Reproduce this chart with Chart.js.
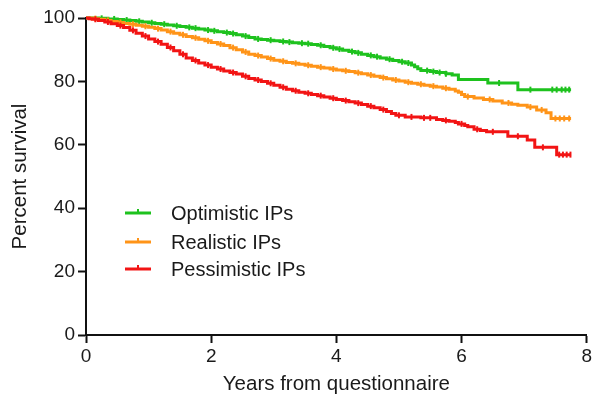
<!DOCTYPE html>
<html><head><meta charset="utf-8">
<script src="https://cdn.jsdelivr.net/npm/chart.js@4"></script>
<style>html,body{margin:0;padding:0;background:#fff}#wrap{width:594px;height:400px;position:relative}</style>
</head><body><div id="wrap"><canvas id="c" width="594" height="400"></canvas></div>
<script>
const seriesNames = ['Optimistic IPs', 'Realistic IPs', 'Pessimistic IPs'];
const seriesColors = ['#1ec21e', '#ff9418', '#f21414'];

const optimisticYears    = [0, 0.2, 0.35, 0.5, 0.6, 0.7, 0.8, 0.9, 1.0, 1.1, 1.2, 1.3, 1.4, 1.5, 1.6, 1.7, 1.8, 1.9, 2.0, 2.1, 2.2, 2.3, 2.4, 2.5, 2.6, 2.7, 2.8, 2.9, 3.0, 3.1, 3.2, 3.3, 3.4, 3.5, 3.6, 3.7, 3.8, 3.9, 4.0, 4.1, 4.2, 4.3, 4.4, 4.5, 4.6, 4.7, 4.8, 4.9, 5.0, 5.1, 5.2, 5.25, 5.3, 5.35, 5.5, 5.6, 5.75, 5.85, 5.95, 6.42, 6.9, 7.75];
const optimisticSurvival = [100, 99.9, 99.7, 99.5, 99.35, 99.2, 98.95, 98.7, 98.5, 98.3, 98.05, 97.8, 97.55, 97.3, 97.05, 96.8, 96.5, 96.2, 95.95, 95.7, 95.4, 95.1, 94.7, 94.3, 93.85, 93.4, 93.2, 93.0, 92.8, 92.6, 92.4, 92.2, 92.05, 91.9, 91.65, 91.4, 91.0, 90.6, 90.2, 89.8, 89.4, 89.0, 88.6, 88.2, 87.8, 87.4, 87.0, 86.6, 86.2, 85.8, 85.2, 84.6, 84.0, 83.4, 83.1, 82.8, 82.4, 82.0, 80.6, 79.5, 77.4, 77.4];

const realisticYears    = [0, 0.1, 0.2, 0.3, 0.4, 0.5, 0.6, 0.7, 0.8, 0.9, 1.0, 1.1, 1.2, 1.3, 1.4, 1.5, 1.6, 1.7, 1.8, 1.9, 2.0, 2.1, 2.2, 2.3, 2.4, 2.5, 2.6, 2.7, 2.8, 2.9, 3.0, 3.1, 3.2, 3.3, 3.4, 3.5, 3.6, 3.7, 3.8, 3.9, 4.0, 4.1, 4.2, 4.3, 4.4, 4.5, 4.6, 4.7, 4.8, 4.9, 5.0, 5.1, 5.2, 5.3, 5.4, 5.5, 5.6, 5.7, 5.8, 5.9, 5.95, 6.0, 6.05, 6.2, 6.35, 6.5, 6.65, 6.8, 6.9, 7.05, 7.2, 7.35, 7.43, 7.75];
const realisticSurvival = [100, 99.8, 99.6, 99.25, 98.9, 98.6, 98.3, 98.0, 97.7, 97.4, 97.1, 96.65, 96.2, 95.7, 95.2, 94.7, 94.2, 93.75, 93.3, 92.8, 92.3, 91.8, 91.3, 90.65, 90.0, 89.3, 88.6, 88.15, 87.7, 87.2, 86.7, 86.35, 86.0, 85.7, 85.4, 85.1, 84.8, 84.5, 84.2, 83.9, 83.6, 83.35, 83.1, 82.75, 82.4, 82.0, 81.6, 81.2, 80.8, 80.45, 80.1, 79.75, 79.4, 79.1, 78.8, 78.5, 78.2, 77.85, 77.5, 77.0, 76.6, 75.9, 75.2, 74.8, 74.3, 73.8, 73.2, 72.8, 72.5, 71.9, 71.0, 70.1, 68.3, 68.3];

const pessimisticYears    = [0, 0.05, 0.1, 0.2, 0.3, 0.4, 0.5, 0.6, 0.7, 0.8, 0.9, 1.0, 1.1, 1.2, 1.3, 1.4, 1.5, 1.6, 1.7, 1.8, 1.9, 2.0, 2.1, 2.2, 2.3, 2.4, 2.5, 2.6, 2.7, 2.8, 2.9, 3.0, 3.1, 3.2, 3.3, 3.4, 3.5, 3.6, 3.7, 3.8, 3.9, 4.0, 4.1, 4.2, 4.3, 4.4, 4.5, 4.6, 4.7, 4.8, 4.88, 4.95, 5.1, 5.35, 5.6, 5.7, 5.8, 5.9, 5.95, 6.05, 6.1, 6.2, 6.3, 6.4, 6.74, 7.05, 7.17, 7.52, 7.75];
const pessimisticSurvival = [100, 99.8, 99.6, 99.2, 98.75, 98.2, 97.6, 97.0, 96.1, 95.2, 94.3, 93.4, 92.55, 91.7, 90.7, 89.7, 88.55, 87.4, 86.6, 85.8, 85.15, 84.5, 83.9, 83.3, 82.8, 82.3, 81.6, 80.9, 80.45, 80.0, 79.4, 78.8, 78.15, 77.5, 77.05, 76.6, 76.25, 75.9, 75.5, 75.1, 74.7, 74.3, 73.95, 73.6, 73.15, 72.7, 72.2, 71.7, 71.1, 70.5, 69.9, 69.3, 68.8, 68.5, 68.0, 67.7, 67.4, 67.0, 66.6, 66.1, 65.7, 64.9, 64.5, 64.1, 62.7, 61.5, 59.2, 56.9, 56.9];

// censored observation times (tick marks)
const optimisticCensored  = [0.25, 0.45, 0.65, 0.85, 1.05, 1.25, 1.45, 1.65, 1.75, 1.95, 2.05, 2.25, 2.35, 2.55, 2.75, 2.95, 3.15, 3.25, 3.45, 3.55, 3.75, 3.95, 4.05, 4.25, 4.35, 4.55, 4.65, 4.85, 5.05, 5.15, 5.45, 5.55, 5.65, 5.75, 6.6, 7.1, 7.45, 7.52, 7.6, 7.66, 7.72];
const realisticCensored   = [0.15, 0.35, 0.55, 0.75, 0.95, 1.15, 1.35, 1.55, 1.75, 1.95, 2.15, 2.35, 2.55, 2.75, 2.95, 3.15, 3.35, 3.55, 3.75, 3.95, 4.15, 4.35, 4.55, 4.75, 4.95, 5.15, 5.35, 5.55, 5.75, 6.1, 6.45, 6.75, 7.1, 7.28, 7.5, 7.57, 7.64, 7.72];
const pessimisticCensored = [0.15, 0.35, 0.55, 0.75, 0.95, 1.15, 1.35, 1.55, 1.75, 1.95, 2.15, 2.35, 2.55, 2.75, 2.95, 3.15, 3.35, 3.55, 3.75, 3.95, 4.15, 4.35, 4.55, 4.75, 5.0, 5.2, 5.4, 5.5, 5.75, 6.0, 6.25, 6.5, 6.9, 7.3, 7.56, 7.62, 7.68, 7.74];

const xTicks = [0, 2, 4, 6, 8];
const yTicks = [0, 20, 40, 60, 80, 100];
const xTitle = 'Years from questionnaire';
const yTitle = 'Percent survival';

const FONT = "'Liberation Sans', Arial, Helvetica, sans-serif";
const TEXT = '#1a1a1a';
const AXIS = '#111';

function toPoints(xs, ys) { return xs.map((x, i) => ({ x: x, y: ys[i] })); }
function survivalAt(xs, ys, t) {
  let v = ys[0];
  for (let i = 0; i < xs.length; i++) { if (xs[i] <= t) v = ys[i]; }
  return v;
}
function censorPoints(xs, ys, cs) { return cs.map(t => ({ x: t, y: survivalAt(xs, ys, t) })); }

const groups = [
  [optimisticYears, optimisticSurvival, optimisticCensored],
  [realisticYears, realisticSurvival, realisticCensored],
  [pessimisticYears, pessimisticSurvival, pessimisticCensored]
];

const datasets = [];
groups.forEach((g, i) => {
  datasets.push({
    label: seriesNames[i],
    data: toPoints(g[0], g[1]),
    borderColor: seriesColors[i],
    backgroundColor: seriesColors[i],
    borderWidth: 3,
    stepped: 'before',
    pointRadius: 0,
    fill: false,
    clip: false,
    order: 3 - i
  });
});
groups.forEach((g, i) => {
  datasets.push({
    label: seriesNames[i] + ' censored',
    isCensor: true,
    data: censorPoints(g[0], g[1], g[2]),
    showLine: false,
    pointStyle: 'line',
    rotation: 90,
    pointRadius: 3,
    pointBorderWidth: 2,
    borderColor: seriesColors[i],
    backgroundColor: seriesColors[i],
    clip: false,
    order: 3 - i
  });
});

const insideLegend = {
  id: 'insideLegend',
  afterDraw(chart) {
    const ctx = chart.ctx;
    const rows = [213, 242, 269];
    ctx.save();
    chart.data.datasets.filter(d => !d.isCensor).forEach((d, i) => {
      const y = rows[i];
      ctx.strokeStyle = d.borderColor;
      ctx.lineWidth = 3;
      ctx.beginPath(); ctx.moveTo(125, y); ctx.lineTo(151, y); ctx.stroke();
      ctx.lineWidth = 2;
      ctx.beginPath(); ctx.moveTo(138, y - 4); ctx.lineTo(138, y); ctx.stroke();
      ctx.fillStyle = TEXT;
      ctx.font = '20px ' + FONT;
      ctx.textBaseline = 'middle';
      ctx.textAlign = 'left';
      ctx.fillText(d.label, 171, y + 1);
    });
    ctx.restore();
  }
};

new Chart(document.getElementById('c'), {
  type: 'line',
  data: { datasets: datasets },
  plugins: [insideLegend],
  options: {
    responsive: false,
    devicePixelRatio: 1,
    animation: false,
    layout: { padding: { left: 0, right: 5, top: 18, bottom: 0 } },
    plugins: { legend: { display: false }, tooltip: { enabled: false } },
    scales: {
      x: {
        type: 'linear', min: 0, max: 8,
        afterBuildTicks: s => { s.ticks = xTicks.map(v => ({ value: v })); },
        afterFit: s => { s.height = 65; },
        ticks: { font: { family: FONT, size: 19 }, color: TEXT, padding: 2, maxRotation: 0 },
        grid: { drawOnChartArea: false, drawTicks: true, tickLength: 8, tickWidth: 2, tickColor: AXIS },
        border: { display: true, color: AXIS, width: 2 },
        title: { display: true, text: xTitle, color: TEXT, font: { family: FONT, size: 20.5 }, padding: { top: 0, bottom: 3 } }
      },
      y: {
        type: 'linear', min: 0, max: 100,
        afterBuildTicks: s => { s.ticks = yTicks.map(v => ({ value: v })); },
        afterFit: s => { s.width = 86; },
        ticks: { font: { family: FONT, size: 19 }, color: TEXT, padding: 3 },
        grid: { drawOnChartArea: false, drawTicks: true, tickLength: 8, tickWidth: 2, tickColor: AXIS },
        border: { display: true, color: AXIS, width: 2 },
        title: { display: true, text: yTitle, color: TEXT, font: { family: FONT, size: 20.5 }, padding: { top: 8, bottom: 0 } }
      }
    }
  }
});
</script>
</body></html>
